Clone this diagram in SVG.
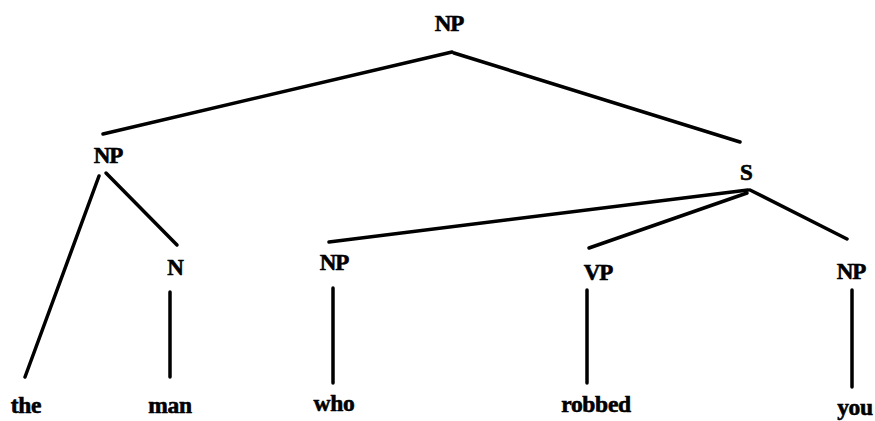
<svg xmlns="http://www.w3.org/2000/svg" width="875" height="421" viewBox="0 0 875 421">
  <style>
    .lbl { font-family: "Liberation Serif", "Times New Roman", serif; font-weight: bold; font-size: 23px; fill: #000; stroke: #000; stroke-width: 0.6; text-anchor: middle; letter-spacing: -1px; }
    .leaf { font-family: "Liberation Serif", "Times New Roman", serif; font-weight: bold; font-size: 23.5px; fill: #000; stroke: #000; stroke-width: 0.6; text-anchor: middle; letter-spacing: -0.3px; }
    .edge { stroke: #000; stroke-width: 3.5; stroke-linecap: round; fill: none; }
  </style>
  <rect width="875" height="421" fill="#fff"/>

  <!-- tree branches -->
  <g id="connectors">
    <line class="edge" x1="452" y1="52" x2="103" y2="134"/>
    <line class="edge" x1="454" y1="53" x2="740" y2="142"/>
    <line class="edge" x1="99" y1="176" x2="25" y2="377"/>
    <line class="edge" x1="106" y1="173" x2="177" y2="245"/>
    <line class="edge" x1="748" y1="190" x2="329" y2="242"/>
    <line class="edge" x1="747" y1="193" x2="589" y2="248"/>
    <line class="edge" x1="750" y1="190" x2="847" y2="239"/>
    <line class="edge" x1="170" y1="292" x2="170" y2="377"/>
    <line class="edge" x1="333" y1="288" x2="333" y2="383"/>
    <line class="edge" x1="587" y1="290" x2="587" y2="383"/>
    <line class="edge" x1="852" y1="290" x2="852" y2="387"/>
  </g>

  <!-- category nodes -->
  <g id="np-root"><text class="lbl" x="449" y="31">NP</text></g>
  <g id="np-subject"><text class="lbl" x="108" y="163">NP</text></g>
  <g id="s-clause"><text class="lbl" x="746" y="180">S</text></g>
  <g id="n-noun"><text class="lbl" x="175" y="275">N</text></g>
  <g id="np-rel"><text class="lbl" x="334" y="270">NP</text></g>
  <g id="vp"><text class="lbl" x="598" y="280">VP</text></g>
  <g id="np-object"><text class="lbl" x="851" y="279">NP</text></g>

  <!-- words -->
  <g id="w-the"><text class="leaf" x="26" y="413">the</text></g>
  <g id="w-man"><text class="leaf" x="170" y="413">man</text></g>
  <g id="w-who"><text class="leaf" x="334" y="411">who</text></g>
  <g id="w-robbed"><text class="leaf" x="596" y="412">robbed</text></g>
  <g id="w-you"><text class="leaf" x="855" y="415">you</text></g>
</svg>
